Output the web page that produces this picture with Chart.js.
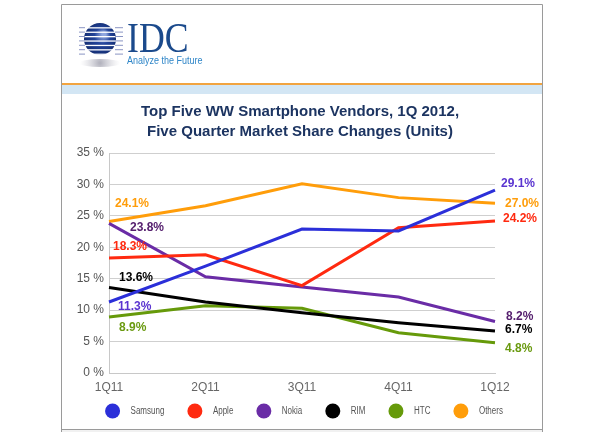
<!DOCTYPE html>
<html>
<head>
<meta charset="utf-8">
<title>Top Five WW Smartphone Vendors</title>
<script src="https://cdn.jsdelivr.net/npm/chart.js@4.4.1/dist/chart.umd.min.js"></script>
<style>
  body { margin: 0; background: #fff; }
  canvas { display: block; }
</style>
</head>
<body>
<canvas id="lineChart" width="600" height="432"></canvas>
<script>
// quarters + market share (%) per vendor
var quarters = ["1Q11", "2Q11", "3Q11", "4Q11", "1Q12"];
var vendors = ["Samsung", "Apple", "Nokia", "RIM", "HTC", "Others"];
var samsung = [11.3, 17.0, 22.9, 22.6, 29.1];
var apple   = [18.3, 18.8, 13.9, 23.1, 24.2];
var nokia   = [23.8, 15.3, 13.7, 12.1, 8.2];
var rim     = [13.6, 11.3, 9.6, 8.0, 6.7];
var htc     = [8.9, 10.7, 10.3, 6.4, 4.8];
var others  = [24.1, 26.6, 30.1, 27.9, 27.0];
var yTicks  = [0, 5, 10, 15, 20, 25, 30, 35];

var lineColors  = ["#2b2fd9", "#ff2a10", "#6a2ca6", "#000000", "#669a0a", "#ff9d0a"];
var labelColors = ["#5a34d0", "#ff2a10", "#56206f", "#000000", "#6a9a10", "#ff9d0a"];
// label offsets (px) from the first / last point
var firstOffsets = [[9, 5], [4, -11], [21, 4], [10, -10], [10, 11], [6, -18]];
var lastOffsets  = [[6, -6], [8, -2], [11, -5], [10, -1], [10, 6], [10, 0]];

var series = [samsung, apple, nokia, rim, htc, others];

var header = {
  id: 'header',
  beforeDraw: function(chart) {
    var c = chart.ctx;
    c.save();
    c.fillStyle = '#fff';
    c.fillRect(0, 0, 600, 432);
    // frame
    c.fillStyle = '#f1f1f1';
    c.fillRect(61, 430, 482, 2);
    c.strokeStyle = '#9a9a9a';
    c.lineWidth = 1;
    c.beginPath();
    c.moveTo(61.5, 4.5); c.lineTo(542.5, 4.5);
    c.moveTo(61.5, 4.5); c.lineTo(61.5, 432);
    c.moveTo(542.5, 4.5); c.lineTo(542.5, 432);
    c.moveTo(61.5, 429.5); c.lineTo(542.5, 429.5);
    c.stroke();
    // orange rule + blue band
    c.fillStyle = '#f2a440';
    c.fillRect(62, 83, 480, 2);
    c.fillStyle = '#d3e6f4';
    c.fillRect(62, 85, 480, 9);

    // logo shadow
    var sg = c.createRadialGradient(100, 63, 1, 100, 63, 20);
    sg.addColorStop(0, 'rgba(150,150,165,0.7)');
    sg.addColorStop(1, 'rgba(200,200,210,0)');
    c.fillStyle = sg;
    c.beginPath();
    c.ellipse(100, 63, 21, 4, 0, 0, Math.PI * 2);
    c.fill();
    // globe
    var g = c.createRadialGradient(104, 34, 2, 100, 39, 17);
    g.addColorStop(0, '#8fa6df');
    g.addColorStop(0.4, '#23449a');
    g.addColorStop(1, '#132d72');
    c.fillStyle = g;
    c.beginPath();
    c.arc(100, 39, 16, 0, Math.PI * 2);
    c.fill();
    // stripes
    for (var i = 0; i < 7; i++) {
      var sy = 25 + i * 4.4;
      c.fillStyle = '#fff';
      c.fillRect(84, sy + 2.2, 32, 1.3);
      c.fillStyle = '#8a95c4';
      c.fillRect(79, sy + 2.2, 6, 1);
      c.fillRect(115, sy + 2.2, 8, 1);
    }
    // IDC wordmark
    c.fillStyle = '#1b4a8c';
    c.textBaseline = 'alphabetic';
    c.textAlign = 'left';
    c.save();
    c.translate(127, 52);
    c.scale(0.85, 1);
    c.font = '42px "Liberation Serif", serif';
    c.fillText('IDC', 0, 0);
    c.restore();
    c.fillStyle = '#2f86c8';
    c.save();
    c.translate(127, 64);
    c.scale(0.9, 1);
    c.font = '10px "Liberation Sans", Arial, sans-serif';
    c.fillText('Analyze the Future', 0, 0);
    c.restore();

    // chart title
    c.fillStyle = '#1c3461';
    c.textAlign = 'center';
    c.textBaseline = 'middle';
    c.font = 'bold 15px "Liberation Sans", Arial, sans-serif';
    c.fillText('Top Five WW Smartphone Vendors, 1Q 2012,', 300, 112);
    c.fillText('Five Quarter Market Share Changes (Units)', 300, 132);
    c.restore();
  }
};

var endLabels = {
  id: 'endLabels',
  afterDatasetsDraw: function(chart) {
    var c = chart.ctx;
    var xs = chart.scales.x, ys = chart.scales.y;
    c.save();
    c.font = 'bold 12px "Liberation Sans", Arial, sans-serif';
    c.textAlign = 'left';
    c.textBaseline = 'middle';
    series.forEach(function(vals, i) {
      c.fillStyle = labelColors[i];
      var last = vals.length - 1;
      c.fillText(vals[0].toFixed(1) + '%', xs.getPixelForValue(0) + firstOffsets[i][0], ys.getPixelForValue(vals[0]) + firstOffsets[i][1]);
      c.fillText(vals[last].toFixed(1) + '%', xs.getPixelForValue(last) + lastOffsets[i][0], ys.getPixelForValue(vals[last]) + lastOffsets[i][1]);
    });
    c.restore();
  }
};

var dotLegend = {
  id: 'dotLegend',
  afterDraw: function(chart) {
    var c = chart.ctx;
    c.save();
    c.font = '10px "Liberation Sans", Arial, sans-serif';
    c.textBaseline = 'middle';
    c.textAlign = 'left';
    var r = 7.5, gap = 10.5, itemGap = 23, squeeze = 0.8;
    var total = 0;
    vendors.forEach(function(v, i) {
      total += 2 * r + gap + c.measureText(v).width * squeeze + (i < vendors.length - 1 ? itemGap : 0);
    });
    var x = (chart.chartArea.left + chart.chartArea.right) / 2 + 2 - total / 2;
    var y = 411;
    vendors.forEach(function(v, i) {
      c.fillStyle = lineColors[i];
      c.beginPath();
      c.arc(x + r, y, r, 0, Math.PI * 2);
      c.fill();
      c.fillStyle = '#555';
      c.save();
      c.translate(x + 2 * r + gap, y);
      c.scale(squeeze, 1);
      c.fillText(v, 0, 0);
      c.restore();
      x += 2 * r + gap + c.measureText(v).width * squeeze + itemGap;
    });
    c.restore();
  }
};

var ctx = document.getElementById("lineChart").getContext('2d');
var myLineChart = new Chart(ctx, {
  type: 'line',
  data: {
    labels: quarters,
    datasets: series.map(function(vals, i) {
      return {
        label: vendors[i],
        data: vals,
        borderColor: lineColors[i],
        backgroundColor: lineColors[i],
        borderWidth: 3,
        pointRadius: 0,
        tension: 0,
        fill: false
      };
    })
  },
  options: {
    responsive: false,
    animation: false,
    devicePixelRatio: 1,
    layout: { padding: { left: 60, right: 105, top: 153, bottom: 29 } },
    plugins: {
      legend: { display: false },
      tooltip: { enabled: false },
      title: { display: false }
    },
    scales: {
      x: {
        offset: false,
        grid: { display: false, drawTicks: false },
        border: { display: true, color: '#c8c8c8' },
        ticks: {
          color: '#666',
          padding: 7,
          maxRotation: 0,
          font: { size: 12, family: '"Liberation Sans", Arial, sans-serif' }
        },
        afterFit: function(s) { s.height = 30; }
      },
      y: {
        min: 0,
        max: 35,
        afterBuildTicks: function(s) { s.ticks = yTicks.map(function(v) { return { value: v }; }); },
        grid: { color: '#cfcfcf', drawTicks: false },
        border: { display: true, color: '#c8c8c8' },
        ticks: {
          color: '#555',
          padding: 5,
          font: { size: 12, family: '"Liberation Sans", Arial, sans-serif' },
          callback: function(v) { return v + ' %'; }
        },
        afterFit: function(s) { s.width = 49; }
      }
    }
  },
  plugins: [header, endLabels, dotLegend]
});
</script>
</body>
</html>
